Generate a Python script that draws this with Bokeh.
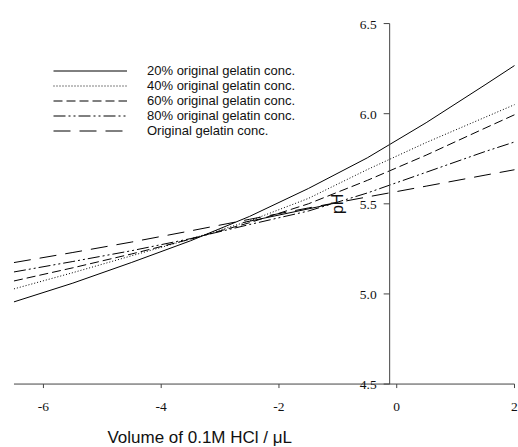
from math import pi
from bokeh.plotting import figure
from bokeh.models import Range1d, Legend, LegendItem, Label, LabelSet, ColumnDataSource
from bokeh.embed import file_html
from bokeh.resources import INLINE

# ---- data ----
volume = [-6.5, -5.5, -4.5, -3.5, -2.5, -1.5, -0.5, 0.5, 1.5, 2.0]
ph_20 = [4.956, 5.060, 5.175, 5.295, 5.430, 5.585, 5.755, 5.950, 6.160, 6.267]
ph_40 = [5.028, 5.118, 5.212, 5.305, 5.405, 5.530, 5.690, 5.840, 5.980, 6.050]
ph_60 = [5.072, 5.145, 5.222, 5.304, 5.395, 5.500, 5.630, 5.770, 5.920, 5.994]
ph_80 = [5.122, 5.180, 5.240, 5.307, 5.385, 5.460, 5.560, 5.675, 5.790, 5.843]
ph_orig = [5.174, 5.230, 5.288, 5.350, 5.414, 5.477, 5.538, 5.598, 5.659, 5.689]
# short solid segment visible on top of the original-conc. curve
seg_volume = [-2.61, -1.12]
seg_ph = [5.396, 5.498]

series_labels = ["20% original gelatin conc.", "40% original gelatin conc.",
                 "60% original gelatin conc.", "80% original gelatin conc.",
                 "Original gelatin conc."]
x_ticks = [-6, -4, -2, 0, 2]
x_tick_labels = ["-6", "-4", "-2", "0", "2"]
y_ticks = [4.5, 5.0, 5.5, 6.0, 6.5]
y_tick_labels = ["4.5", "5.0", "5.5", "6.0", "6.5"]
x_title = "Volume of 0.1M HCl / \u03bcL"
y_title = "pH"

# ---- layout / styles ----
FONT = "Liberation Sans"
W, H = 518, 447
X0, X1 = -6.729, 2.068          # data range covering the whole canvas
Y0, Y1 = 4.148, 6.628
PX = W / (X1 - X0)              # pixels per x unit
PY = H / (Y1 - Y0)              # pixels per y unit
x_min, x_max = -6.5, 2.0        # extent of the volume axis
y_min, y_max = 4.5, 6.5         # extent of the pH axis
axis_x = -0.12                  # where the pH axis crosses the volume axis
AX_COL = "#444444"
TXT_COL = "#111111"
dashes = ["solid", "1 2", "9 4", "12 3 2 3 2 3", "17 9"]

p = figure(width=W, height=H, x_range=Range1d(X0, X1), y_range=Range1d(Y0, Y1),
           output_backend="svg", toolbar_location=None,
           x_axis_location=None, y_axis_location=None,
           min_border=0, min_border_left=0, min_border_right=0,
           min_border_top=0, min_border_bottom=0)
p.grid.grid_line_color = None
p.outline_line_color = None
p.background_fill_color = "white"
p.border_fill_color = "white"

renderers = []
for ys, d in zip([ph_20, ph_40, ph_60, ph_80, ph_orig], dashes):
    r = p.line(volume, ys, line_color="black", line_width=1, line_dash=d)
    renderers.append(r)
p.line(seg_volume, seg_ph, line_color="black", line_width=1)

# volume axis (bottom, at pH 4.5)
p.line([x_min, x_max], [y_min, y_min], line_color=AX_COL, line_width=1)
p.ray(x=x_ticks, y=[y_min] * len(x_ticks), length=4, length_units="screen",
      angle=-pi / 2, line_color=AX_COL, line_width=1)
xsrc = ColumnDataSource(dict(x=x_ticks, y=[y_min - 26.5 / PY] * len(x_ticks), text=x_tick_labels))
p.add_layout(LabelSet(x="x", y="y", text="text", source=xsrc, text_align="center",
                      text_baseline="alphabetic", text_font=FONT, text_font_size="13.5px",
                      text_color=TXT_COL))

# pH axis drawn at its crossing position
p.line([axis_x, axis_x], [y_min, y_max], line_color=AX_COL, line_width=1)
p.ray(x=[axis_x] * len(y_ticks), y=y_ticks, length=6, length_units="screen",
      angle=pi, line_color=AX_COL, line_width=1)
ysrc = ColumnDataSource(dict(x=[axis_x - 13 / PX] * len(y_ticks),
                             y=[t - 5 / PY for t in y_ticks], text=y_tick_labels))
p.add_layout(LabelSet(x="x", y="y", text="text", source=ysrc, text_align="right",
                      text_baseline="alphabetic", text_font=FONT, text_font_size="13.5px",
                      text_color=TXT_COL))

p.add_layout(Label(x=-1.0, y=5.5, text=y_title, angle=pi / 2, text_align="center",
                   text_baseline="middle", text_font=FONT, text_font_size="16px",
                   text_color=TXT_COL))
p.add_layout(Label(x=-3.346, y=y_min - 53.0 / PY, text=x_title, text_align="center",
                   text_baseline="alphabetic", text_font=FONT, text_font_size="17px",
                   text_color=TXT_COL))

legend = Legend(items=[LegendItem(label=l, renderers=[r]) for l, r in zip(series_labels, renderers)],
                location=(53, 309), glyph_width=74, glyph_height=13, label_height=13,
                label_standoff=20, spacing=-2, padding=0, margin=0,
                border_line_color=None, background_fill_alpha=0,
                label_text_font=FONT, label_text_font_size="13px", label_text_color=TXT_COL)
p.add_layout(legend)

open("out.html", "w").write(file_html(p, INLINE))
